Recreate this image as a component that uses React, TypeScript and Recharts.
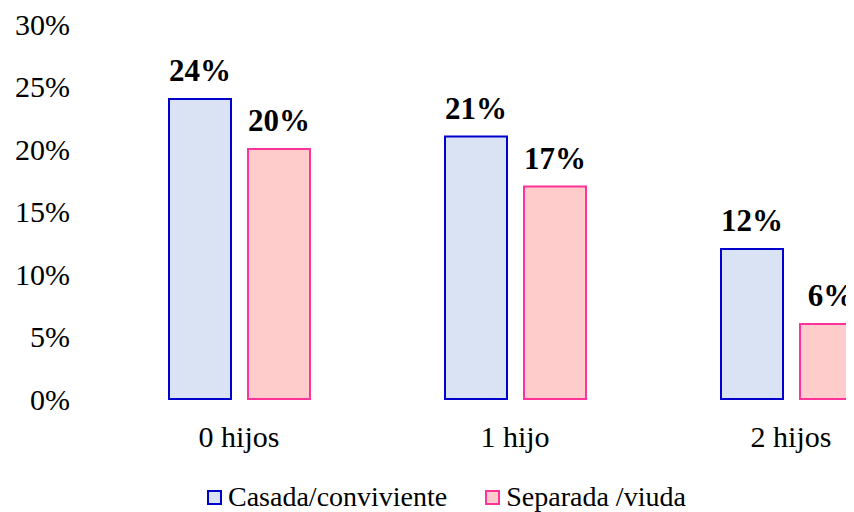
import React from "react";
import { BarChart, Bar, XAxis, YAxis, Legend, LabelList } from "recharts";

const categories = ["0 hijos", "1 hijo", "2 hijos"];
const casadaValues = [24, 21, 12];
const separadaValues = [20, 17, 6];
const yTicks = [0, 5, 10, 15, 20, 25, 30];
const seriesNames = ["Casada/conviviente", "Separada /viuda"];

const data = categories.map((c, i) => ({
  name: c,
  casada: casadaValues[i],
  separada: separadaValues[i],
}));

const FONT = "'Liberation Serif', 'Times New Roman', serif";

const series = [
  { key: "casada", name: seriesNames[0], fill: "#DAE3F3", stroke: "#0000CC" },
  { key: "separada", name: seriesNames[1], fill: "#FFCCCC", stroke: "#FF3399" },
];

const LegendContent = () => (
  <div
    style={{
      display: "flex",
      alignItems: "center",
      height: 30,
      fontFamily: FONT,
      fontSize: 28,
      color: "#000",
      whiteSpace: "nowrap",
    }}
  >
    {series.map((s, i) => (
      <div
        key={s.key}
        style={{ display: "flex", alignItems: "center", marginRight: i === 0 ? 38 : 0 }}
      >
        <span
          style={{
            display: "inline-block",
            width: 11,
            height: 11,
            background: s.fill,
            border: `2px solid ${s.stroke}`,
            marginRight: 6,
          }}
        />
        <span>{s.name}</span>
      </div>
    ))}
  </div>
);

export default function App() {
  return (
    <div style={{ width: 846, height: 504, overflow: "hidden", position: "relative" }}>
      <BarChart
        width={940}
        height={504}
        data={data}
        margin={{ top: 16, right: 19, left: 0, bottom: 43 }}
        barSize={62}
        barGap={17}
      >
        <XAxis
          dataKey="name"
          axisLine={false}
          tickLine={false}
          tickSize={0}
          tickMargin={27}
          height={40}
          interval={0}
          tick={{ fontFamily: FONT, fontSize: 30, fill: "#000" }}
        />
        <YAxis
          domain={[0, 30]}
          ticks={yTicks}
          axisLine={false}
          tickLine={false}
          tickSize={0}
          tickMargin={31}
          width={93}
          interval={0}
          tickFormatter={(v: number) => `${v}%`}
          tick={{ fontFamily: FONT, fontSize: 30, fill: "#000" }}
        />
        <Legend
          verticalAlign="bottom"
          content={<LegendContent />}
          wrapperStyle={{ left: 199, bottom: 0, width: "auto", height: 30 }}
        />
        {series.map((s) => (
          <Bar
            key={s.key}
            dataKey={s.key}
            name={s.name}
            fill={s.fill}
            stroke={s.stroke}
            strokeWidth={2}
            isAnimationActive={false}
          >
            <LabelList
              dataKey={s.key}
              position="top"
              offset={18}
              formatter={(v: number) => `${v}%`}
              style={{ fontFamily: FONT, fontSize: 31, fontWeight: "bold", fill: "#000" }}
            />
          </Bar>
        ))}
      </BarChart>
    </div>
  );
}
